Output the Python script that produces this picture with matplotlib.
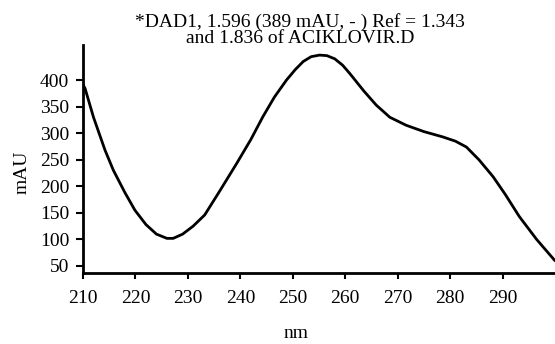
import matplotlib.pyplot as plt

# spectrum (nm, mAU)
wavelength = [210.0, 210.4, 212.0, 214.2, 215.8, 218.0, 219.9, 222.0, 224.0, 226.0, 227.2, 229.0,
              231.0, 233.2, 236.0, 239.3, 242.0, 244.3, 246.5, 248.8, 250.5, 252.0, 253.5, 255.1,
              256.5, 258.0, 259.5, 260.9, 263.5, 265.9, 268.5, 271.6, 275.0, 278.6, 281.0, 283.1,
              285.5, 288.2, 290.5, 293.2, 296.5, 299.9]
absorbance = [392, 384, 330, 268, 230, 188, 155, 128, 110, 102, 102, 110,
              125, 146, 190, 243, 288, 331, 368, 400, 420, 435, 444, 447,
              446, 440, 428, 412, 380, 353, 330, 315, 303, 293, 285, 274,
              250, 218, 185, 143, 100, 61]

title_lines = ["*DAD1, 1.596 (389 mAU, - ) Ref = 1.343", "and 1.836 of ACIKLOVIR.D"]
xticks = [210, 220, 230, 240, 250, 260, 270, 280, 290]
yticks = [50, 100, 150, 200, 250, 300, 350, 400]

plt.rcParams['font.family'] = ['Liberation Serif', 'DejaVu Serif']

fig = plt.figure(figsize=(5.55, 3.44), dpi=100)
ax = fig.add_axes([83/555, 1-273/344, 1-83/555, (273-45)/344])

ax.plot(wavelength, absorbance, color='black', lw=2)
ax.set_xlim(210, 300)
ax.set_ylim(36.8, 466)
ax.set_xticks(xticks)
ax.set_yticks(yticks)
for s in ['top', 'right']:
    ax.spines[s].set_visible(False)
for s in ['left', 'bottom']:
    ax.spines[s].set_linewidth(2)
ax.tick_params(axis='x', width=1.5, length=4, labelsize=14, pad=8)
ax.tick_params(axis='y', width=1.5, length=5, labelsize=14, pad=5)

fig.text(296/555, 1-333/344, 'nm', ha='center', va='center', fontsize=14)
fig.text(22/555, 1-172/344, 'mAU', ha='center', va='center', rotation=90, fontsize=14)
fig.text(300/555, 1-13/344, title_lines[0] + "\n" + title_lines[1], ha='center', va='top',
         fontsize=14, linespacing=0.95)

fig.savefig('out.png', dpi=100)
